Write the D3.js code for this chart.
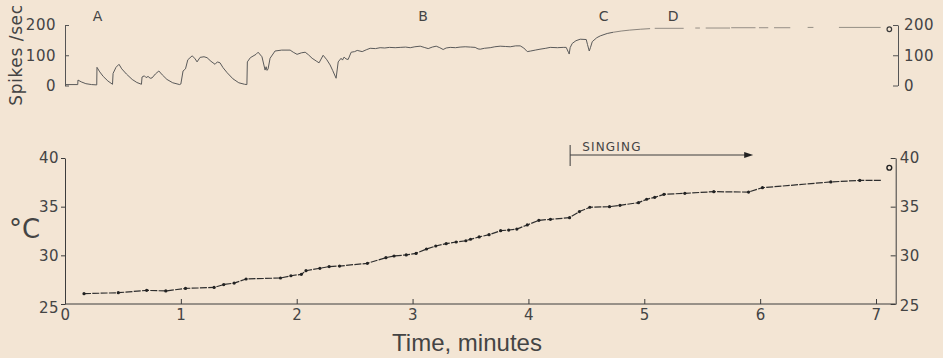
<!DOCTYPE html>
<html><head><meta charset="utf-8">
<script src="https://cdn.jsdelivr.net/npm/d3@7"></script>
<style>
html,body{margin:0;padding:0;background:#f3e5d4;}
svg{display:block;}
text{font-family:"DejaVu Sans","Liberation Sans",sans-serif;fill:#444;}
</style></head>
<body>
<svg id="chart" width="943" height="358"></svg>
<script>
// ---------- DATA ----------
// spike rate trace: [time (min), spikes/sec]
const spikeTrace = [
 [0,3],[0.11,3],[0.112,18],[0.14,12],[0.18,6],[0.23,3],[0.274,2],
 [0.276,60],[0.30,45],[0.33,30],[0.37,15],[0.41,4],
 [0.415,40],[0.44,60],[0.466,70],[0.49,55],[0.53,38],[0.58,20],[0.62,10],[0.66,4],
 [0.665,28],[0.685,32],[0.70,26],[0.717,30],[0.735,24],[0.751,25],[0.78,38],[0.81,48],[0.84,35],[0.88,20],[0.93,9],[0.99,3],
 [1.0,5],[1.019,48],[1.04,55],[1.06,85],[1.097,98],[1.12,90],[1.14,78],[1.166,93],[1.2,95],[1.226,92],[1.26,80],[1.295,70],[1.315,78],[1.338,75],[1.364,59],[1.40,42],[1.45,22],[1.50,9],[1.55,4],[1.57,3],
 [1.574,78],[1.60,92],[1.649,103],[1.667,110],[1.70,95],[1.727,51],[1.736,62],[1.744,50],[1.753,55],[1.77,90],[1.813,114],[1.87,117],[1.943,117],[1.97,110],[2.003,103],[2.04,108],[2.073,110],[2.10,102],[2.133,90],[2.168,81],[2.193,75],[2.228,100],[2.26,85],[2.288,68],[2.31,50],[2.34,24],[2.358,78],[2.383,90],[2.395,84],[2.409,94],[2.425,88],[2.444,86],[2.47,110],[2.5,112],[2.522,116],
 [2.565,112],[2.60,118],[2.634,123],[2.68,122],[2.72,125],[2.76,124],[2.80,126],[2.85,125],[2.893,126],[2.94,127],[2.98,125],[3.02,128],[3.066,130],[3.10,126],[3.135,122],[3.17,127],[3.204,130],[3.235,125],[3.264,119],[3.29,124],[3.325,126],[3.37,125],[3.41,127],[3.454,128],[3.50,127],[3.54,126],[3.565,121],[3.584,120],[3.62,123],[3.67,125],[3.71,128],[3.756,130],[3.80,129],[3.843,128],[3.89,131],[3.929,131],[3.96,124],[3.99,112],[4.02,114],[4.059,117],[4.10,120],[4.15,123],[4.188,126],[4.25,125],[4.30,126],[4.326,126],[4.345,110],[4.352,104],[4.36,125],[4.378,139],[4.41,148],[4.447,153],[4.499,152],[4.51,135],[4.525,114],[4.535,125],[4.551,145],[4.59,158],[4.62,164],[4.68,172],[4.732,176]
];
// faint tail of the trace (pieces): [start min, end min, spikes/sec]
const spikeTailStart = [[4.732,176],[4.80,180],[4.87,183],[4.965,186],[5.05,188]];
const spikeTail = [[5.09,5.34,189],[5.44,5.48,190],[5.53,5.74,190],[5.75,5.96,191],[5.99,6.07,191],[6.12,6.26,191],[6.41,6.46,192],[6.68,7.04,192]];
const spikeEndMarker = [7.115, 186];
const phaseLabels = [["A",0.28],["B",3.09],["C",4.65],["D",5.25]];

// temperature: [time (min), °C]
const tempData = [
 [0.164,26.06],[0.46,26.16],[0.705,26.4],[0.87,26.34],[1.04,26.6],[1.287,26.7],[1.37,27.0],[1.46,27.15],[1.563,27.57],[1.86,27.67],[1.95,27.9],[2.04,28.05],[2.08,28.42],[2.2,28.67],[2.28,28.84],[2.37,28.9],[2.61,29.18],[2.77,29.76],[2.84,29.93],[2.945,30.04],[3.03,30.2],[3.12,30.65],[3.2,30.96],[3.29,31.2],[3.376,31.37],[3.46,31.5],[3.5,31.65],[3.575,31.89],[3.66,32.12],[3.76,32.53],[3.83,32.6],[3.9,32.7],[3.99,33.12],[4.09,33.6],[4.19,33.7],[4.355,33.87],[4.44,34.5],[4.53,34.94],[4.7,35.0],[4.79,35.14],[4.95,35.41],[5.02,35.76],[5.09,35.96],[5.17,36.27],[5.35,36.37],[5.6,36.54],[5.9,36.5],[6.02,36.95],[6.61,37.54],[6.86,37.7]
];
const tempLineEnd = [7.05,37.7];
const tempEndMarker = [7.115,39.0];
const singing = {label:"SINGING", start:4.36, end:5.94};

const xTicks = [0,1,2,3,4,5,6,7];
const spikeTicks = [0,100,200];
const tempTicks = [25,30,35,40];

// ---------- SCALES ----------
const svg = d3.select("#chart");
const x = d3.scaleLinear().domain([0,7]).range([65,876]);
const yS = d3.scaleLinear().domain([0,200]).range([85.5,25]);
const yT = d3.scaleLinear().domain([25,40]).range([304,158]);
const ink = "#3c3c3c";

// ---------- TOP PANEL ----------
const gTopL = svg.append("g").attr("transform",`translate(${x(0)},0)`)
  .call(d3.axisLeft(yS).tickValues(spikeTicks).tickSizeInner(-4).tickSizeOuter(0).tickPadding(9).tickFormat(d3.format("d")));
const gTopR = svg.append("g").attr("transform",`translate(${x(7.19)},0)`)
  .call(d3.axisRight(yS).tickValues(spikeTicks).tickSizeInner(-5).tickSizeOuter(0).tickPadding(6).tickFormat(d3.format("d")));
[gTopL,gTopR].forEach(g=>{
  g.selectAll("path,line").attr("stroke","#555").attr("stroke-width",1);
  g.selectAll("text").attr("font-size",15).attr("fill","#555").style("letter-spacing","0.5px");
});

svg.append("text").attr("transform","translate(22,55) rotate(-90)")
  .attr("text-anchor","middle").attr("font-size",17).attr("fill","#555").style("letter-spacing","0.6px").text("Spikes /sec");

const lineS = d3.line().x(d=>x(d[0])).y(d=>yS(d[1]));
svg.append("path").datum(spikeTrace).attr("d",lineS)
  .attr("fill","none").attr("stroke","#5a5a5a").attr("stroke-width",1).attr("stroke-linejoin","round");
svg.append("path").datum(spikeTailStart).attr("d",lineS)
  .attr("fill","none").attr("stroke","#8a847c").attr("stroke-width",1);
svg.selectAll(".tail").data(spikeTail).enter().append("line")
  .attr("x1",d=>x(d[0])).attr("x2",d=>x(d[1])).attr("y1",d=>yS(d[2])).attr("y2",d=>yS(d[2]))
  .attr("stroke","#958f86").attr("stroke-width",1);
svg.append("circle").attr("cx",x(spikeEndMarker[0])).attr("cy",yS(spikeEndMarker[1])).attr("r",2.3)
  .attr("fill","none").attr("stroke",ink).attr("stroke-width",1.2);

svg.selectAll(".phase").data(phaseLabels).enter().append("text")
  .attr("x",d=>x(d[1])).attr("y",21).attr("text-anchor","middle").attr("font-size",14).attr("fill","#333").text(d=>d[0]);

// ---------- BOTTOM PANEL ----------
const gBL = svg.append("g").attr("transform",`translate(${x(0)},0)`)
  .call(d3.axisLeft(yT).tickValues(tempTicks).tickSizeInner(4).tickSizeOuter(0).tickPadding(2));
const gBR = svg.append("g").attr("transform",`translate(${x(7.17)},0)`)
  .call(d3.axisRight(yT).tickValues(tempTicks).tickSizeInner(-5).tickSizeOuter(0).tickPadding(4));
const gBX = svg.append("g").attr("transform",`translate(0,${yT(25)})`)
  .call(d3.axisBottom(x).tickValues(xTicks).tickSizeInner(-5).tickSizeOuter(0).tickPadding(5).tickFormat(d3.format("d")));
gBX.select(".domain").attr("d",`M${x(0)},0H${x(7.17)}`);
[gBL,gBR,gBX].forEach(g=>{
  g.selectAll("path,line").attr("stroke",ink).attr("stroke-width",1);
  g.selectAll("text").attr("font-size",15).attr("fill","#444").style("letter-spacing","0.5px");
});
gBL.selectAll(".tick").filter(d=>d===25).select("text").attr("dy","0.55em");
gBR.selectAll(".tick").filter(d=>d===25).select("text").attr("dy","0.45em");

svg.append("text").attr("x",9).attr("y",238).attr("font-size",26).attr("fill","#333").text("°C");
svg.append("text").attr("x",467).attr("y",351).attr("text-anchor","middle")
  .style("font-family","'Liberation Sans',Arial,sans-serif").attr("font-size",24).attr("fill","#333").text("Time, minutes");

const lineT = d3.line().x(d=>x(d[0])).y(d=>yT(d[1]));
svg.append("path").datum(tempData.concat([tempLineEnd])).attr("d",lineT)
  .attr("fill","none").attr("stroke","#2e2e2e").attr("stroke-width",1.2).attr("stroke-dasharray","7,1.3");
svg.selectAll(".tdot").data(tempData).enter().append("circle")
  .attr("cx",d=>x(d[0])).attr("cy",d=>yT(d[1])).attr("r",1.6).attr("fill","#222");
svg.append("circle").attr("cx",x(tempEndMarker[0])).attr("cy",yT(tempEndMarker[1])).attr("r",2.4)
  .attr("fill","none").attr("stroke","#222").attr("stroke-width",1.4);

// singing annotation
const sy = 155;
svg.append("line").attr("x1",x(singing.start)).attr("x2",x(singing.start)).attr("y1",sy-10).attr("y2",sy+11)
  .attr("stroke",ink).attr("stroke-width",1);
svg.append("line").attr("x1",x(singing.start)).attr("x2",x(singing.end)-7).attr("y1",sy).attr("y2",sy)
  .attr("stroke",ink).attr("stroke-width",1);
svg.append("path").attr("d",`M${x(singing.end)},${sy}L${x(singing.end)-9},${sy-3}L${x(singing.end)-9},${sy+3}Z`).attr("fill","#222");
svg.append("text").attr("x",x(singing.start)+12).attr("y",sy-4).attr("font-size",12).attr("fill","#555").style("letter-spacing","1.2px").text(singing.label);
</script>
</body></html>
